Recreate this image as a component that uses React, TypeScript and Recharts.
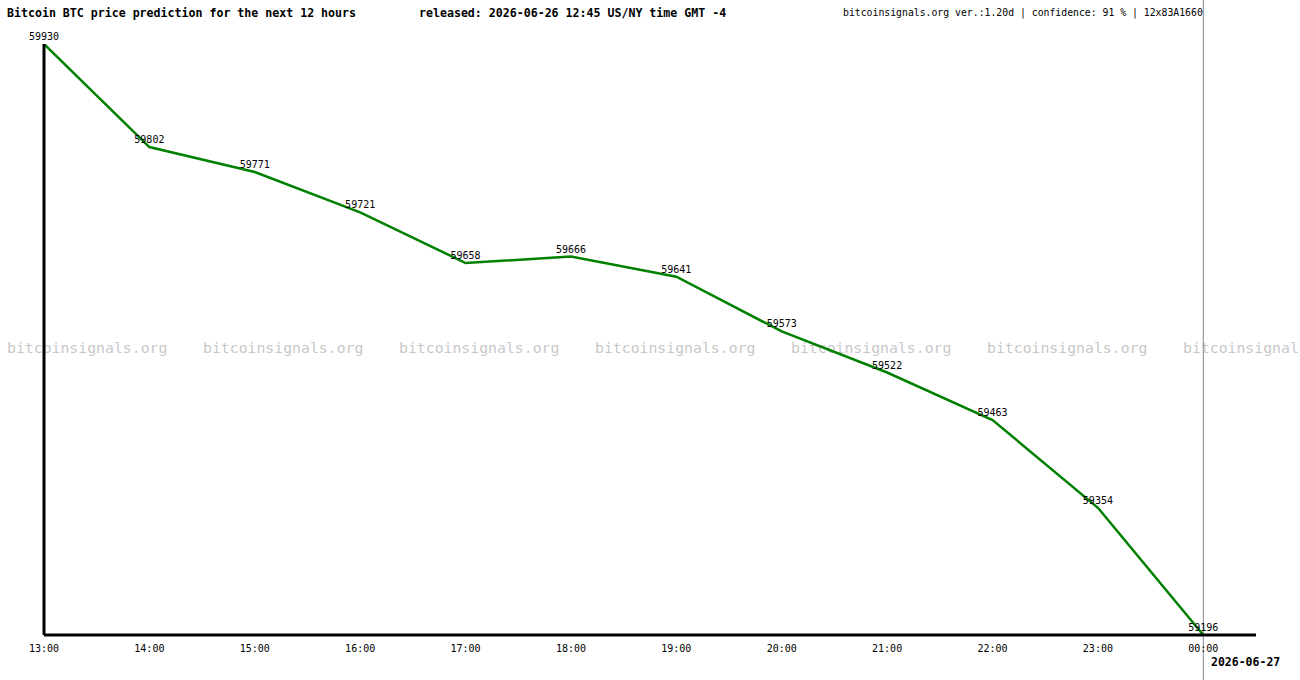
import { LineChart, Line, XAxis, YAxis, ReferenceLine, LabelList } from 'recharts'

// hourly forecast, 13:00 today to 00:00 tomorrow
const hours = ['13:00', '14:00', '15:00', '16:00', '17:00', '18:00', '19:00', '20:00', '21:00', '22:00', '23:00', '00:00']
const prices = [59930, 59802, 59771, 59721, 59658, 59666, 59641, 59573, 59522, 59463, 59354, 59196]

const data = hours.map((h, i) => ({ idx: i, time: h, price: prices[i] }))

const MONO = '"DejaVu Sans Mono", "Liberation Mono", monospace'
const WATERMARK_X = [7, 203, 399, 595, 791, 987, 1183]

export default function App() {
  return (
    <div style={{ position: 'absolute', left: 0, top: 0, width: 1300, height: 680, background: '#fff', overflow: 'hidden', fontFamily: MONO }}>
      {/* watermark row */}
      {WATERMARK_X.map((x) => (
        <div key={x} style={{ position: 'absolute', left: x, top: 339, fontSize: 14.8, color: '#c8c8c8', whiteSpace: 'nowrap' }}>
          bitcoinsignals.org
        </div>
      ))}

      <LineChart width={1300} height={680} data={data} margin={{ top: 44, right: 44, bottom: 15, left: 40 }} style={{ position: 'absolute', left: 0, top: 0 }}>
        <XAxis
          dataKey="idx"
          type="number"
          domain={[0, 11.5]}
          height={30}
          ticks={hours.map((_, i) => i)}
          tickFormatter={(v) => hours[v] ?? ''}
          axisLine={{ stroke: '#000', strokeWidth: 3 }}
          tickLine={false}
          tickMargin={4}
          tick={{ fill: '#000', fontSize: 10, fontFamily: MONO }}
          allowDataOverflow
        />
        <YAxis
          domain={[59196, 59930]}
          width={4}
          tick={false}
          tickLine={false}
          axisLine={{ stroke: '#000', strokeWidth: 3 }}
          allowDataOverflow
        />
        <ReferenceLine
          x={11}
          stroke="#888"
          strokeWidth={1}
          ifOverflow="visible"
          shape={(p: any) => <line x1={p.x1} x2={p.x2} y1={0} y2={680} stroke="#888" strokeWidth={1} />}
        />
        <Line type="linear" dataKey="price" stroke="#008000" strokeWidth={2.5} dot={false} isAnimationActive={false}>
          <LabelList dataKey="price" position="top" offset={4} fill="#000" fontSize={10} fontFamily={MONO} />
        </Line>
      </LineChart>

      <div style={{ position: 'absolute', left: 7, top: 6, fontSize: 11.6, fontWeight: 'bold', whiteSpace: 'nowrap' }}>
        Bitcoin BTC price prediction for the next 12 hours
      </div>
      <div style={{ position: 'absolute', left: 419, top: 6, fontSize: 11.6, fontWeight: 'bold', whiteSpace: 'nowrap' }}>
        released: 2026-06-26 12:45 US/NY time GMT -4
      </div>
      <div style={{ position: 'absolute', left: 843, top: 7, fontSize: 9.8, whiteSpace: 'nowrap' }}>
        bitcoinsignals.org ver.:1.20d | confidence: 91 % | 12x83A1660
      </div>
      <div style={{ position: 'absolute', left: 1211, top: 655, fontSize: 11.5, fontWeight: 'bold', whiteSpace: 'nowrap' }}>
        2026-06-27
      </div>
    </div>
  )
}
